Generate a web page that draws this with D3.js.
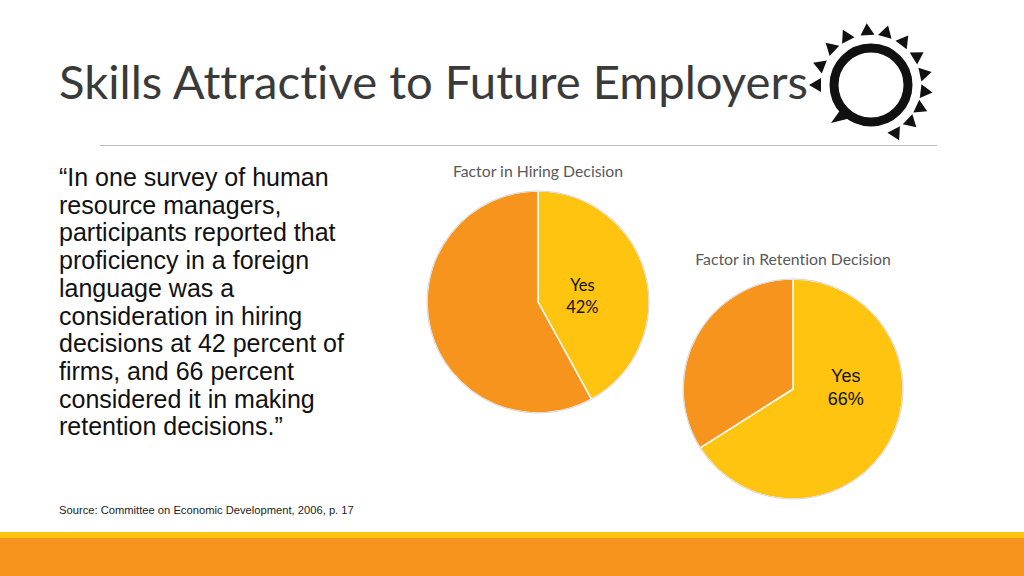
<!DOCTYPE html>
<html>
<head>
<meta charset="utf-8">
<script src="https://cdn.jsdelivr.net/npm/d3@7"></script>
<style>
  html, body { margin: 0; padding: 0; background: #fff; }
  svg { display: block; }
  text { font-variant-ligatures: none; }
</style>
</head>
<body>
<svg width="1024" height="576"></svg>
<script>
// slide text
const TITLE = 'Skills Attractive to Future Employers';
const QUOTE_LINES = [
    '\u201CIn one survey of human',
    'resource managers,',
    'participants reported that',
    'proficiency in a foreign',
    'language was a',
    'consideration in hiring',
    'decisions at 42 percent of',
    'firms, and 66 percent',
    'considered it in making',
    'retention decisions.\u201D'
];
const SOURCE = 'Source: Committee on Economic Development, 2006, p. 17';

// pie data
const CATEGORIES = ['Yes', 'No'];
const HIRING_VALUES = [42, 58];
const RETENTION_VALUES = [66, 34];
const PIE_TITLES = ['Factor in Hiring Decision', 'Factor in Retention Decision'];

// logo ray angles (degrees, clockwise from top)
const RAY_ANGLES = [-90, -69, -47, -27, -4, 16, 37, 58, 78, 97, 115, 133, 153];

const YELLOW = '#FEC40F';
const ORANGE = '#F7941E';

var svg = d3.select('svg');

// title
var title = svg.append('text')
    .attr('x', 59)
    .attr('y', 99)
    .attr('font-family', 'Lato, "Open Sans", sans-serif')
    .attr('font-size', 47)
    .attr('fill', '#3a3a3a')
    .text(TITLE);
// stretch to match the original title width
title.attr('textLength', 749).attr('lengthAdjust', 'spacingAndGlyphs');

// rule under the title
svg.append('line')
    .attr('x1', 100).attr('x2', 937)
    .attr('y1', 145.5).attr('y2', 145.5)
    .attr('stroke', '#bfbfbf')
    .attr('stroke-width', 1.2);

// quote paragraph
svg.append('text')
    .attr('font-family', '"Liberation Sans", Arial, sans-serif')
    .attr('font-size', 25)
    .attr('fill', '#111')
    .selectAll('tspan')
    .data(QUOTE_LINES)
    .join('tspan')
    .attr('x', 59)
    .attr('y', function(d, i) { return 186 + i * 27.7; })
    .text(function(d) { return d; });

// source
svg.append('text')
    .attr('x', 59)
    .attr('y', 514)
    .attr('font-family', '"Liberation Sans", Arial, sans-serif')
    .attr('font-size', 11.2)
    .attr('fill', '#222')
    .text(SOURCE);

// bottom bands
svg.append('rect').attr('x', 0).attr('y', 532).attr('width', 1024).attr('height', 7).attr('fill', YELLOW);
svg.append('rect').attr('x', 0).attr('y', 538).attr('width', 1024).attr('height', 38).attr('fill', ORANGE);

// pies
var color = d3.scaleOrdinal().domain(CATEGORIES).range([YELLOW, ORANGE]);

var charts = [
    { values: HIRING_VALUES, title: PIE_TITLES[0], cx: 538, cy: 302, r: 111, titleY: 177,
      labelFont: 'Lato, "Open Sans", sans-serif', labelSize: 16.5, labelOffset: [0.40, -0.05], lineGap: 22 },
    { values: RETENTION_VALUES, title: PIE_TITLES[1], cx: 793, cy: 389, r: 110, titleY: 265,
      labelFont: '"Liberation Sans", Arial, sans-serif', labelSize: 18, labelOffset: [0.48, -0.02], lineGap: 23 }
];

charts.forEach(function(c) {
    var g = svg.append('g').attr('transform', 'translate(' + c.cx + ',' + c.cy + ')');

    var pie = d3.pie().sort(null).value(function(d) { return d.value; });
    var arc = d3.arc().innerRadius(0).outerRadius(c.r);
    var data = CATEGORIES.map(function(k, i) { return { key: k, value: c.values[i] }; });
    var arcs = pie(data);

    g.selectAll('path.slice')
        .data(arcs)
        .join('path')
        .attr('class', 'slice')
        .attr('d', arc)
        .attr('fill', function(d) { return color(d.data.key); })
        .attr('stroke', '#fff')
        .attr('stroke-width', 1.5)
        .attr('stroke-linejoin', 'round');

    // thin grey rim
    g.append('circle')
        .attr('r', c.r)
        .attr('fill', 'none')
        .attr('stroke', '#d6d6d6')
        .attr('stroke-width', 1);

    // chart title
    svg.append('text')
        .attr('x', c.cx)
        .attr('y', c.titleY)
        .attr('text-anchor', 'middle')
        .attr('font-family', 'Lato, "Open Sans", sans-serif')
        .attr('font-size', 15.8)
        .attr('fill', '#595959')
        .text(c.title);

    // "Yes" label
    var yes = arcs[0];
    var lx = c.labelOffset[0] * c.r;
    var ly = c.labelOffset[1] * c.r;
    var label = g.append('text')
        .attr('text-anchor', 'middle')
        .attr('font-family', c.labelFont)
        .attr('font-size', c.labelSize)
        .attr('fill', '#111');
    label.append('tspan').attr('x', lx).attr('y', ly - c.lineGap / 2 + c.labelSize * 0.35).text(yes.data.key);
    label.append('tspan').attr('x', lx).attr('y', ly + c.lineGap / 2 + c.labelSize * 0.35).text(yes.data.value + '%');
});

// logo: ring with rays
var logo = svg.append('g').attr('transform', 'translate(871,85)');
logo.append('circle')
    .attr('r', 37)
    .attr('fill', 'none')
    .attr('stroke', '#111')
    .attr('stroke-width', 9);
// speech-bubble tail
logo.append('path')
    .attr('d', 'M-30,24 L-40,38 L-20,33 Z')
    .attr('fill', '#111');
logo.selectAll('path.ray')
    .data(RAY_ANGLES)
    .join('path')
    .attr('class', 'ray')
    .attr('d', 'M-7,-50 L7,-50 L0,-62 Z')
    .attr('transform', function(d) { return 'rotate(' + d + ')'; })
    .attr('fill', '#111');
</script>
</body>
</html>
